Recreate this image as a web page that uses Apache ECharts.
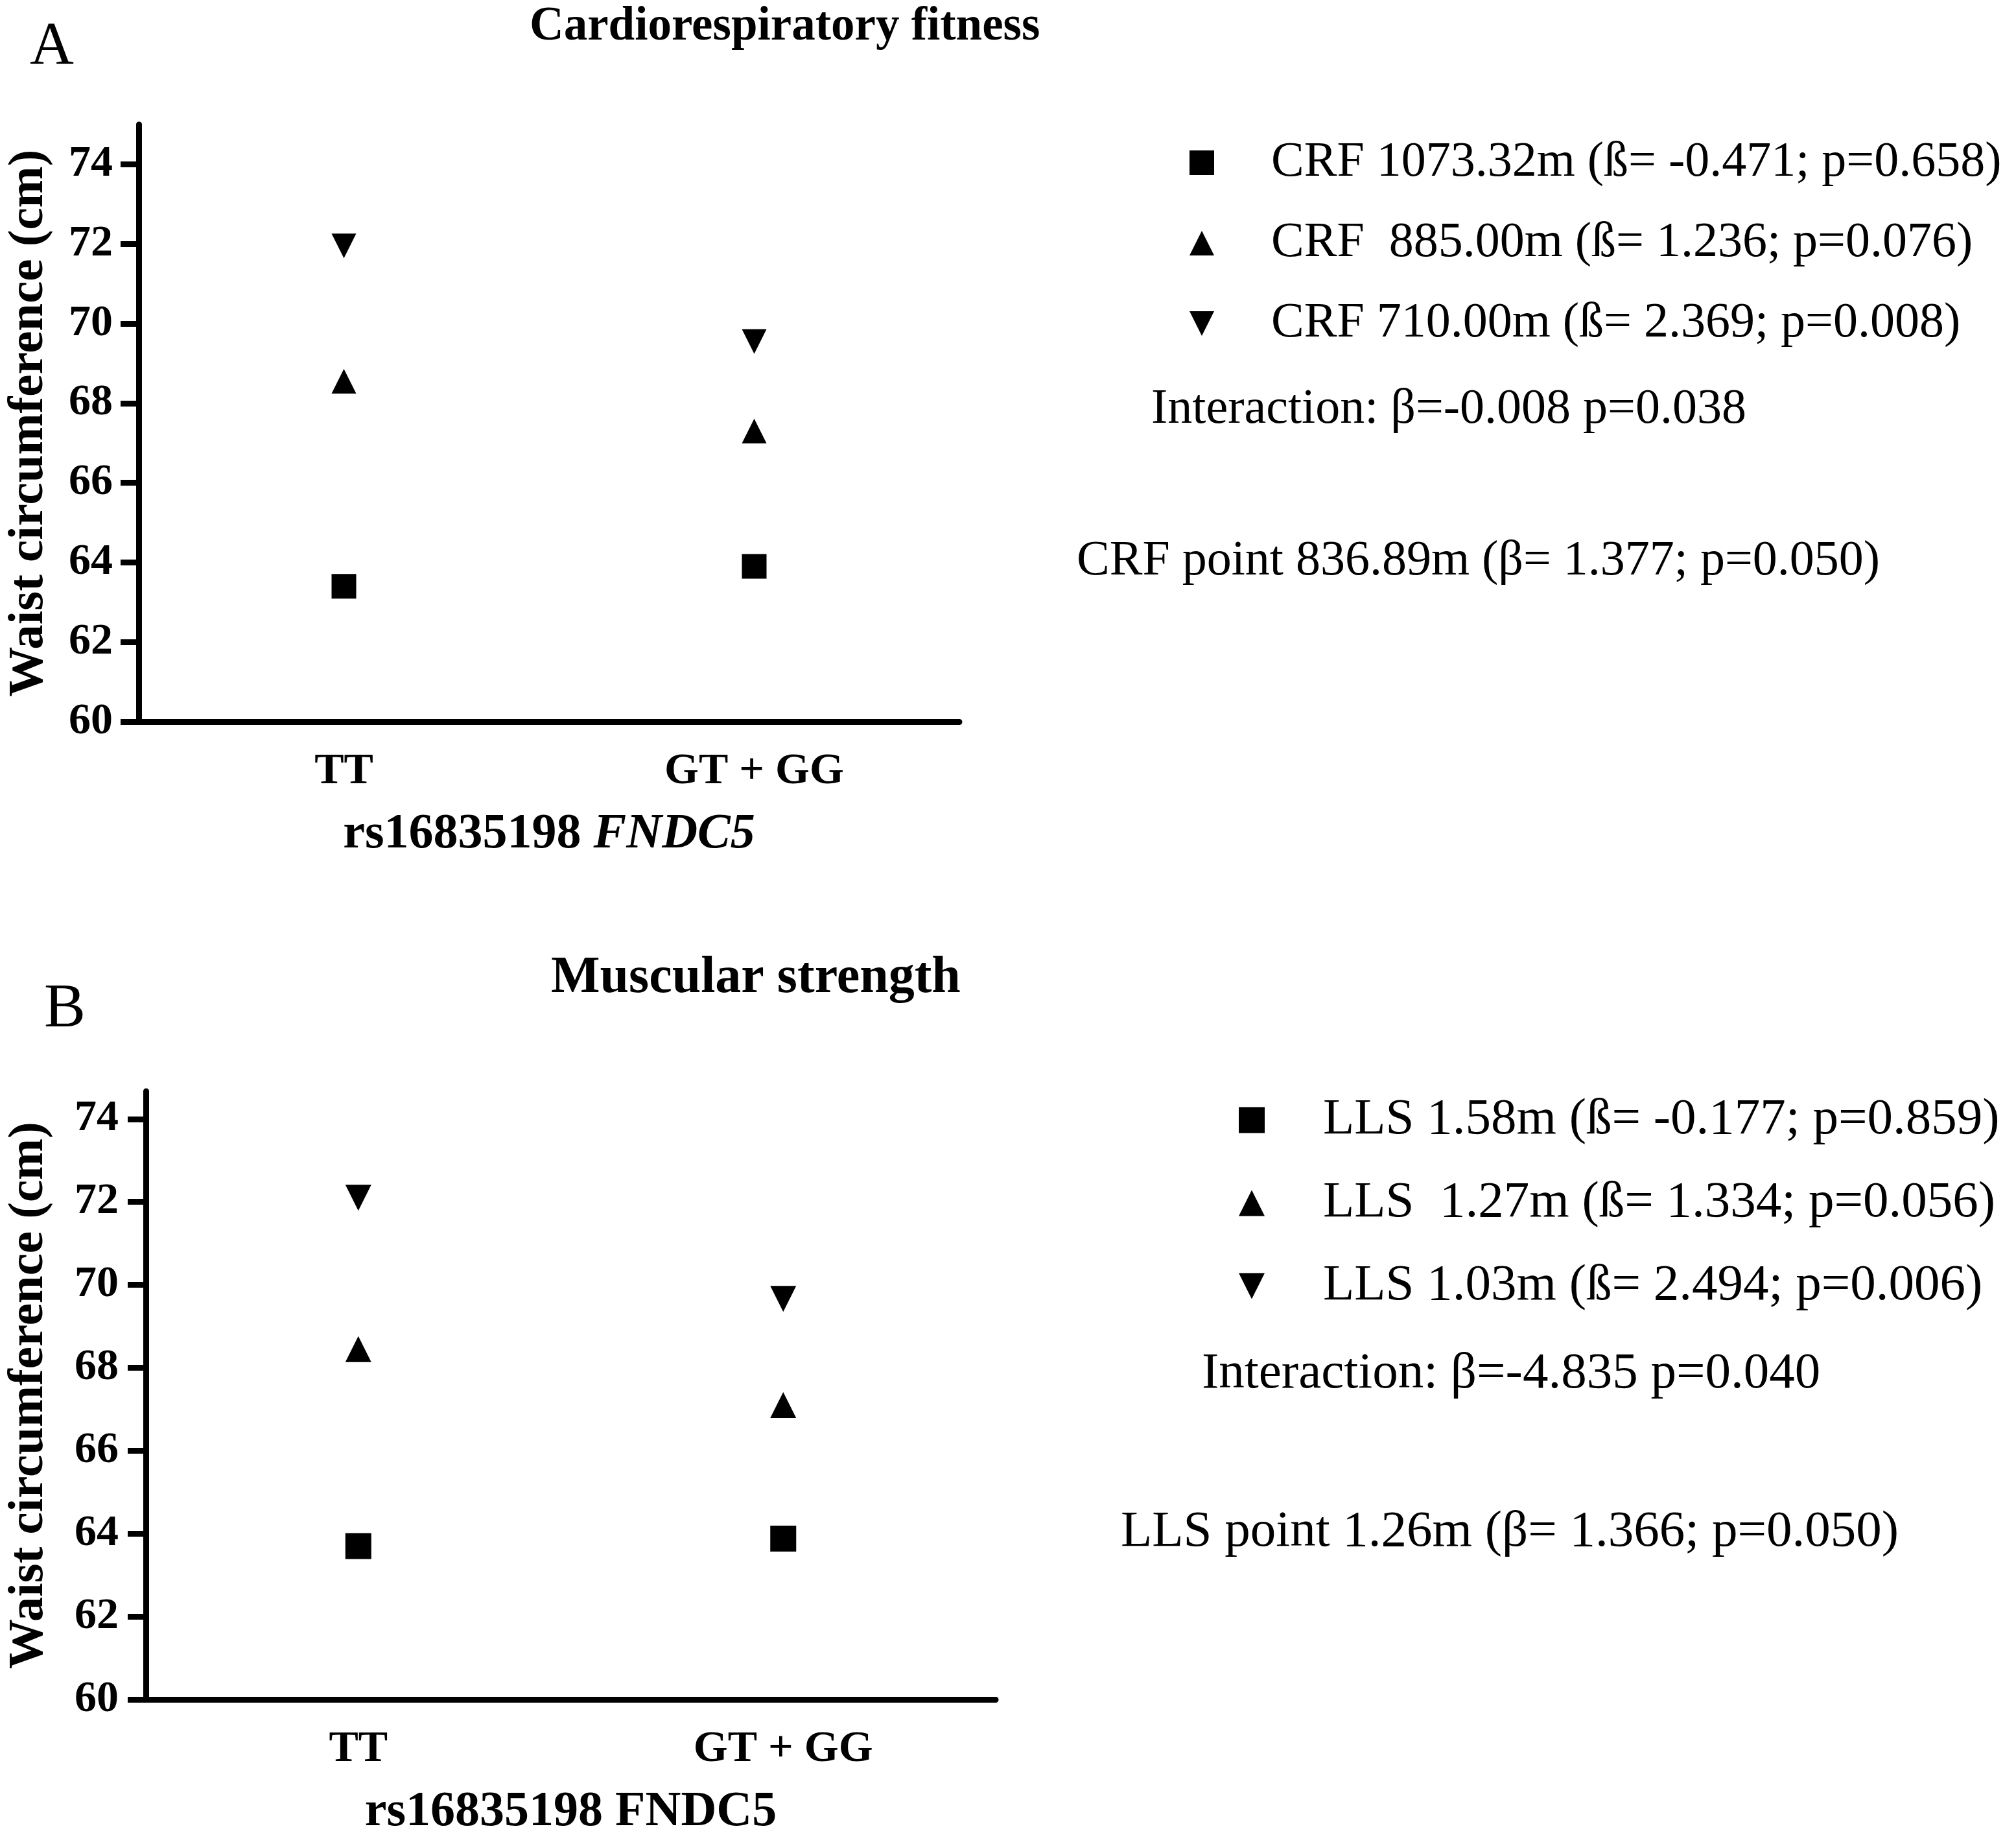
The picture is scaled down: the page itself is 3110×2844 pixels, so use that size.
<!DOCTYPE html>
<html>
<head>
<meta charset="utf-8">
<script src="https://cdn.jsdelivr.net/npm/echarts@6/dist/echarts.min.js"></script>
<style>
html,body{margin:0;padding:0;background:#fff;}
#chart{width:3110px;height:2844px;}
</style>
</head>
<body>
<div id="chart"></div>
<script>
// ---- data ----
const categories = ['TT', 'GT + GG'];
const yTicks = [60, 62, 64, 66, 68, 70, 72, 74];

const crfNames = ['CRF 1073.32m (ß= -0.471; p=0.658)', 'CRF  885.00m (ß= 1.236; p=0.076)', 'CRF 710.00m (ß= 2.369; p=0.008)'];
const crfSquare = [63.4, 63.9];
const crfUp = [68.55, 67.3];
const crfDown = [71.95, 69.55];

const llsNames = ['LLS 1.58m (ß= -0.177; p=0.859)', 'LLS  1.27m (ß= 1.334; p=0.056)', 'LLS 1.03m (ß= 2.494; p=0.006)'];
const llsSquare = [63.7, 63.88];
const llsUp = [68.45, 67.1];
const llsDown = [72.1, 69.66];

const crfInteraction = 'Interaction: β=-0.008 p=0.038';
const crfPoint = 'CRF point 836.89m (β= 1.377; p=0.050)';
const llsInteraction = 'Interaction: β=-4.835 p=0.040';
const llsPoint = 'LLS point 1.26m (β= 1.366; p=0.050)';

// ---- styles ----
const FONT = 'Liberation Serif';
const BLACK = '#000';
const DOWN_ICON = 'path://M0,0L20,0L10,20Z';

function txt(text, left, top, size, weight) {
  return {
    text: text, left: left, top: top, padding: 0,
    textStyle: { fontFamily: FONT, fontSize: size, fontWeight: weight || 'normal', color: BLACK, lineHeight: size }
  };
}

function xAxisCfg(gridIndex, nameRich) {
  return {
    type: 'category', gridIndex: gridIndex, data: categories, boundaryGap: true,
    axisLine: { lineStyle: { color: BLACK, width: 9 } },
    axisTick: { alignWithLabel: true, length: 26, lineStyle: { color: BLACK, width: 9 } },
    axisLabel: { color: BLACK, fontFamily: FONT, fontWeight: 'bold', fontSize: 68, lineHeight: 68, margin: 43 },
    splitLine: { show: false },
    name: nameRich, nameLocation: 'middle', nameGap: 136,
    nameTextStyle: {
      color: BLACK, fontFamily: FONT, fontWeight: 'bold', fontSize: 76, lineHeight: 76,
      rich: {
        n: { fontFamily: FONT, fontWeight: 'bold', fontSize: 76, color: BLACK },
        i: { fontFamily: FONT, fontWeight: 'bold', fontStyle: 'italic', fontSize: 76, color: BLACK }
      }
    }
  };
}

function yAxisCfg(gridIndex, max, margin, nameGap) {
  return {
    type: 'value', gridIndex: gridIndex, min: 60, max: max,
    axisLine: { show: true, lineStyle: { color: BLACK, width: 9 } },
    axisTick: { show: true, length: 28, customValues: yTicks, lineStyle: { color: BLACK, width: 9 } },
    axisLabel: { color: BLACK, fontFamily: FONT, fontWeight: 'bold', fontSize: 68, margin: margin, customValues: yTicks },
    splitLine: { show: false },
    name: 'Waist circumference (cm)', nameLocation: 'middle', nameRotate: 90, nameGap: nameGap,
    nameTextStyle: { color: BLACK, fontFamily: FONT, fontWeight: 'bold', fontSize: 77, lineHeight: 77 }
  };
}

function scatter(name, data, symbol, rotate, idx, size) {
  return {
    type: 'scatter', name: name, data: data, xAxisIndex: idx, yAxisIndex: idx,
    symbol: symbol, symbolRotate: rotate, symbolSize: size,
    itemStyle: { color: BLACK, opacity: 1 },
    emphasis: { disabled: true }, silent: true
  };
}

function legendCfg(names, left, top, size, gap, pad, icon) {
  return {
    data: [
      { name: names[0], icon: 'rect' },
      { name: names[1], icon: 'triangle' },
      { name: names[2], icon: DOWN_ICON }
    ],
    orient: 'vertical', left: left, top: top, padding: 0,
    itemWidth: icon, itemHeight: icon, itemGap: gap, selectedMode: false,
    itemStyle: { color: BLACK },
    textStyle: { fontFamily: FONT, fontSize: size, lineHeight: size, color: BLACK, padding: [0, 0, 0, pad] }
  };
}

const option = {
  backgroundColor: '#fff',
  animation: false,
  title: [
    txt('A', 46, 26, 94),
    txt('Cardiorespiratory fitness', 817, 6, 73, 'bold'),
    txt('B', 68, 1510, 96),
    txt('Muscular strength', 850, 1469, 80, 'bold'),
    txt(crfInteraction, 1776, 594, 76),
    txt(crfPoint, 1661, 828, 76),
    txt(llsInteraction, 1854, 2080, 79),
    txt(llsPoint, 1729, 2324, 79)
  ],
  grid: [
    { left: 214, top: 192, width: 1266, height: 921, containLabel: false },
    { left: 225, top: 1683, width: 1311, height: 938, containLabel: false }
  ],
  xAxis: [
    xAxisCfg(0, '{n|rs16835198 }{i|FNDC5}'),
    xAxisCfg(1, '{n|rs16835198 FNDC5}')
  ],
  yAxis: [
    yAxisCfg(0, 75, 40, 130),
    yAxisCfg(1, 74.67, 42, 141)
  ],
  legend: [
    legendCfg(crfNames, 1835, 213, 76, 48, 83, 38),
    legendCfg(llsNames, 1911, 1688, 79, 49, 85, 40)
  ],
  series: [
    scatter(crfNames[0], crfSquare, 'rect', 0, 0, 38),
    scatter(crfNames[1], crfUp, 'triangle', 0, 0, 38),
    scatter(crfNames[2], crfDown, 'triangle', 180, 0, 38),
    scatter(llsNames[0], llsSquare, 'rect', 0, 1, 40),
    scatter(llsNames[1], llsUp, 'triangle', 0, 1, 40),
    scatter(llsNames[2], llsDown, 'triangle', 180, 1, 40)
  ]
};

const chart = echarts.init(document.getElementById('chart'), null, { renderer: 'canvas' });
chart.setOption(option);
</script>
</body>
</html>
